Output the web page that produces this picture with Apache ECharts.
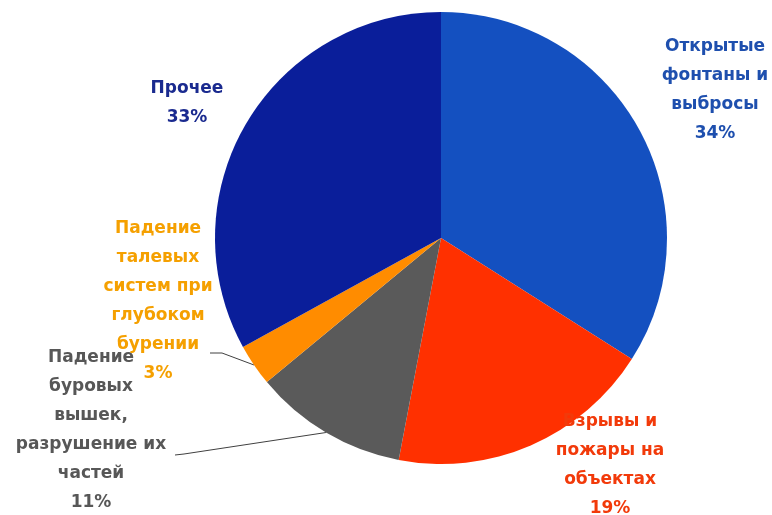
<!DOCTYPE html>
<html>
<head>
<meta charset="utf-8">
<script src="https://cdn.jsdelivr.net/npm/echarts@6/dist/echarts.min.js"></script>
<style>html,body{margin:0;padding:0;background:#fff}#c{width:772px;height:515px}</style>
</head>
<body>
<div id="c"></div>
<script>
var categories = [
  'Открытые\nфонтаны и\nвыбросы',
  'Взрывы и\nпожары на\nобъектах',
  'Падение\nбуровых\nвышек,\nразрушение их\nчастей',
  'Падение\nталевых\nсистем при\nглубоком\nбурении',
  'Прочее'
];
var values = [34, 19, 11, 3, 33];
var colors = ['#1450C0', '#FF3000', '#5A5A5A', '#FF8C00', '#0A1E9A'];
var labelColors = ['#1E4FAE', '#F23A0A', '#575757', '#F5A000', '#1A2A8F'];
var labelPos = [[715, 90], [610, 465], [91, 430], [158, 301], [187, 103]];
var showLine = [false, false, true, true, false];
// label-side ends of the leader lines (elbow, end)
var lineEnds = [null, null, [[184, 454], [175, 455]], [[222, 353], [210, 353]], null];

var chart = echarts.init(document.getElementById('c'), null, {renderer: 'canvas'});
var data = categories.map(function (n, i) {
  return {
    name: n,
    value: values[i],
    itemStyle: {color: colors[i]},
    label: {color: labelColors[i]},
    labelLine: {show: showLine[i], lineStyle: {color: '#404040', width: 1}}
  };
});
chart.setOption({
  animation: false,
  series: [{
    type: 'pie',
    center: [441, 238],
    radius: 226,
    startAngle: 90,
    clockwise: true,
    data: data,
    itemStyle: {borderWidth: 0},
    label: {
      show: true,
      position: 'outside',
      formatter: function (p) { return p.name + '\n' + p.value + '%'; },
      fontFamily: 'DejaVu Sans',
      fontWeight: 'bold',
      fontSize: 17,
      lineHeight: 29,
      align: 'center',
      overflow: 'none'
    },
    labelLine: {length: 10, length2: 10},
    labelLayout: function (p) {
      var i = p.dataIndex;
      var pos = labelPos[i];
      var res = {x: pos[0], y: pos[1], align: 'center', verticalAlign: 'middle'};
      if (lineEnds[i] && p.labelLinePoints) {
        res.labelLinePoints = [p.labelLinePoints[0], lineEnds[i][0], lineEnds[i][1]];
      }
      return res;
    }
  }]
});
</script>
</body>
</html>
